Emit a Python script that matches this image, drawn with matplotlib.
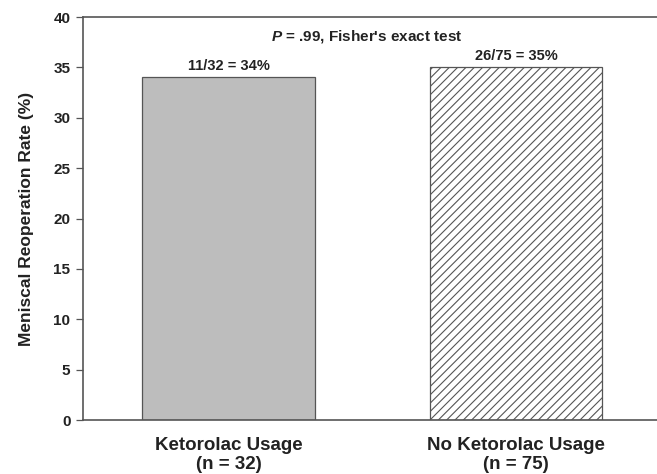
import matplotlib.pyplot as plt
import numpy as np

plt.rcParams['font.family'] = ['Liberation Sans', 'DejaVu Sans']
plt.rcParams['mathtext.fontset'] = 'custom'
plt.rcParams['mathtext.bfit'] = 'Liberation Sans:italic:bold'
plt.rcParams['hatch.color'] = '#555555'
plt.rcParams['hatch.linewidth'] = 0.8

# data
groups = ['Ketorolac Usage\n(n = 32)', 'No Ketorolac Usage\n(n = 75)']
rates = [34, 35]
bar_labels = ['11/32 = 34%', '26/75 = 35%']
yticks = [0, 5, 10, 15, 20, 25, 30, 35, 40]

fig = plt.figure(figsize=(6.57, 4.74), dpi=100)
ax = fig.add_axes([0.1263, 0.1139, 0.8737, 0.8502])

x = np.arange(len(groups))
ax.bar(x[0], rates[0], width=0.6, color='#bdbdbd', edgecolor='#555555', linewidth=0.9)
ax.bar(x[1], rates[1], width=0.6, color='white', edgecolor='#555555', linewidth=0.9, hatch='////')

for xi, r, lab in zip(x, rates, bar_labels):
    ax.annotate(lab, (xi, r), xytext=(0, 3), textcoords='offset points',
                ha='center', va='bottom', fontsize=10.5, fontweight='bold', color='#222222')

ax.text(0.48, 38.1, r"$\mathbfit{P}$ = .99, Fisher's exact test", ha='center', va='center',
        fontsize=11, fontweight='bold', color='#222222')

ax.set_xlim(-0.506, 1.49)
ax.set_ylim(0, 40)
ax.set_yticks(yticks)
ax.set_xticks(x)
ax.set_xticklabels(groups, fontsize=13.5, fontweight='bold', color='#222222')
ax.tick_params(axis='x', length=0, pad=12)
ax.tick_params(axis='y', direction='out', length=5, width=0.9, color='#555555', labelsize=11, pad=4)
for t in ax.get_yticklabels():
    t.set_fontweight('bold')
    t.set_color('#222222')
ax.set_ylabel('Meniscal Reoperation Rate (%)', fontsize=12.5, fontweight='bold', color='#222222', labelpad=14)

ax.spines['right'].set_visible(False)
for s in ['left', 'top', 'bottom']:
    ax.spines[s].set_color('#555555')
    ax.spines[s].set_linewidth(1.2)

plt.savefig('out.png', dpi=100)
